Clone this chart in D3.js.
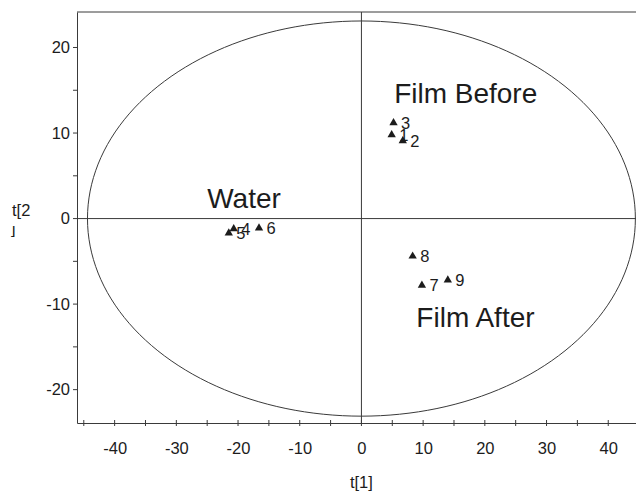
<!DOCTYPE html>
<html>
<head>
<meta charset="utf-8">
<script src="https://cdn.jsdelivr.net/npm/d3@7"></script>
<style>
  html, body { margin: 0; padding: 0; background: #fff; }
  svg { display: block; font-family: "Liberation Sans", Arial, sans-serif; }
</style>
</head>
<body>
<svg id="chart" width="636" height="491"></svg>
<script>
// PCA score plot: t[1] vs t[2] with Hotelling T2 ellipse
const sampleIds = ["1", "2", "3", "4", "5", "6", "7", "8", "9"];
const t1Scores = [4.9, 6.7, 5.2, -20.7, -21.5, -16.6, 9.8, 8.3, 14.0];
const t2Scores = [9.8, 9.1, 11.2, -1.2, -1.7, -1.1, -7.8, -4.4, -7.2];

const groupNames = ["Film Before", "Water", "Film After"];
const groupX = [5.3, -25.0, 8.9];
const groupY = [13.5, 1.2, -12.7];

const xTicks = [-40, -30, -20, -10, 0, 10, 20, 30, 40];
const yTicks = [-20, -10, 0, 10, 20];
const ellipseAxes = [44.4, 23.1];

const svg = d3.select("#chart");
const ink = "#1c1c1c";
const lineInk = "#3a3a3a";
const fontFam = '"Liberation Sans", Arial, sans-serif';

const x = d3.scaleLinear().domain([-46.1, 44.5]).range([77, 636]);
const y = d3.scaleLinear().domain([-23.9, 24.15]).range([423, 12]);

// frame (top and left edges; right side runs off the page)
svg.append("line").attr("x1", x.range()[0]).attr("x2", x.range()[1])
  .attr("y1", y.range()[1]).attr("y2", y.range()[1])
  .attr("stroke", lineInk).attr("stroke-width", 1);

// ellipse
const ell = d3.range(0, 361, 2).map(a => {
  const r = a * Math.PI / 180;
  return [ellipseAxes[0] * Math.cos(r), ellipseAxes[1] * Math.sin(r)];
});
svg.append("path")
  .datum(ell)
  .attr("d", d3.line().x(d => x(d[0])).y(d => y(d[1])))
  .attr("fill", "none").attr("stroke", lineInk).attr("stroke-width", 1);

// zero lines
svg.append("line").attr("x1", x.range()[0]).attr("x2", x.range()[1])
  .attr("y1", y(0)).attr("y2", y(0)).attr("stroke", lineInk).attr("stroke-width", 1);
svg.append("line").attr("x1", x(0)).attr("x2", x(0))
  .attr("y1", y.range()[0]).attr("y2", y.range()[1]).attr("stroke", lineInk).attr("stroke-width", 1);

// axes
const xMinor = d3.range(-45, 45, 5);
const yMinor = d3.range(-20, 21, 5);
const plainFmt = d => String(d);

const xAxis = svg.append("g").attr("transform", `translate(0,${y.range()[0]})`)
  .call(d3.axisBottom(x).tickValues(xTicks).tickSize(0).tickPadding(19).tickFormat(plainFmt));
xAxis.select(".domain").attr("stroke", lineInk);
xAxis.selectAll("text").attr("font-size", 16.5).attr("fill", ink).attr("font-family", fontFam);
xAxis.selectAll(".minor").data(xMinor).enter().append("line")
  .attr("x1", d => x(d)).attr("x2", d => x(d)).attr("y1", -3).attr("y2", 3)
  .attr("stroke", lineInk);

const yAxis = svg.append("g").attr("transform", `translate(${x.range()[0]},0)`)
  .call(d3.axisLeft(y).tickValues(yTicks).tickSize(0).tickPadding(7).tickFormat(plainFmt));
yAxis.select(".domain").attr("stroke", lineInk);
yAxis.selectAll("text").attr("font-size", 16.5).attr("fill", ink).attr("font-family", fontFam);
yAxis.selectAll(".minor").data(yMinor).enter().append("line")
  .attr("x1", -4).attr("x2", 1).attr("y1", d => y(d)).attr("y2", d => y(d))
  .attr("stroke", lineInk);

// axis titles
svg.append("text").attr("x", x(0)).attr("y", 488).attr("text-anchor", "middle")
  .attr("font-size", 16.5).attr("fill", ink).text("t[1]");
svg.append("text").attr("x", 12).attr("y", 216)
  .attr("font-size", 16.5).attr("fill", ink).text("t[2");
svg.append("clipPath").attr("id", "wrapClip")
  .append("rect").attr("x", 0).attr("y", 226).attr("width", 40).attr("height", 20);
svg.append("text").attr("x", 11).attr("y", 234).attr("clip-path", "url(#wrapClip)")
  .attr("font-size", 16.5).attr("fill", ink).text("]");

// samples
const pts = sampleIds.map((id, i) => ({ id, t1: t1Scores[i], t2: t2Scores[i] }));
const tri = d3.symbol().type(d3.symbolTriangle).size(30);
svg.append("g").selectAll("path").data(pts).enter().append("path")
  .attr("d", tri)
  .attr("transform", d => `translate(${x(d.t1)},${y(d.t2)})`)
  .attr("fill", ink);
svg.append("g").selectAll("text").data(pts).enter().append("text")
  .attr("x", d => x(d.t1) + 7.5).attr("y", d => y(d.t2) + 6)
  .attr("font-size", 16.5).attr("fill", ink).text(d => d.id);

// group labels
svg.append("g").selectAll("text").data(groupNames).enter().append("text")
  .attr("x", (d, i) => x(groupX[i])).attr("y", (d, i) => y(groupY[i]))
  .attr("font-size", 28).attr("fill", ink).text(d => d);
</script>
</body>
</html>
